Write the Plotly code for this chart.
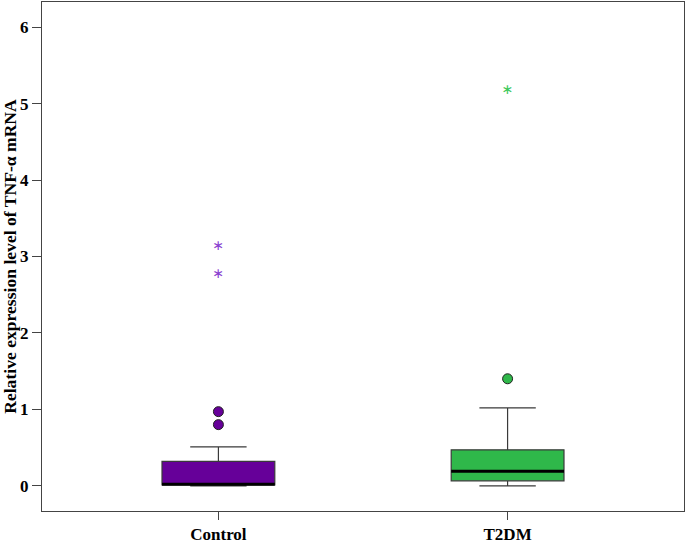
import plotly.graph_objects as go

groups = ["Control", "T2DM"]
box_colors = ["#660099", "#2fb84a"]
star_colors = ["#8a3fd0", "#3cc85a"]

# box statistics
lower_fence = [0.0, 0.0]
q1 = [0.01, 0.065]
median = [0.02, 0.19]
q3 = [0.32, 0.47]
upper_fence = [0.51, 1.02]

# outliers (circles) and extreme values (stars)
outliers = [[0.80, 0.97], [1.40]]
extremes = [[2.77, 3.13], [5.17]]

box_width = 0.39
xpos = list(range(len(groups)))

fig = go.Figure()

for i, g in enumerate(groups):
    fig.add_trace(go.Box(
        x=[xpos[i]],
        lowerfence=[lower_fence[i]], q1=[q1[i]], median=[median[i]],
        q3=[q3[i]], upperfence=[upper_fence[i]],
        width=box_width, whiskerwidth=0.5,
        fillcolor=box_colors[i],
        line=dict(color="#3a3a3a", width=1.2),
        boxpoints=False, name=g, showlegend=False, hoverinfo="skip",
    ))
    # thick median line
    fig.add_trace(go.Scatter(
        x=[xpos[i] - box_width / 2, xpos[i] + box_width / 2],
        y=[median[i], median[i]], mode="lines",
        line=dict(color="black", width=3), showlegend=False, hoverinfo="skip",
    ))
    fig.add_trace(go.Scatter(
        x=[xpos[i]] * len(outliers[i]), y=outliers[i], mode="markers",
        marker=dict(symbol="circle", size=10, color=box_colors[i],
                    line=dict(color="#222222", width=1)),
        showlegend=False, hoverinfo="skip",
    ))
    fig.add_trace(go.Scatter(
        x=[xpos[i]] * len(extremes[i]), y=extremes[i], mode="text",
        text=["\u2217"] * len(extremes[i]), textposition="middle center",
        textfont=dict(family="DejaVu Sans", size=14, color=star_colors[i]),
        showlegend=False, hoverinfo="skip",
    ))

axis_font = dict(family="Liberation Serif", size=17, color="black")

fig.update_layout(
    width=685, height=544,
    margin=dict(l=42, r=1, t=2, b=33),
    paper_bgcolor="white", plot_bgcolor="white",
    font=axis_font,
    xaxis=dict(
        range=[-0.61, 1.61], tickvals=xpos, ticktext=["<b>%s</b>" % g for g in groups],
        showgrid=False, zeroline=False, showline=True, mirror=True,
        linecolor="#444444", linewidth=1, ticks="outside", ticklen=8,
        tickcolor="#444444", tickfont=axis_font, automargin=False,
    ),
    yaxis=dict(
        range=[-0.33, 6.33], tickvals=[0, 1, 2, 3, 4, 5, 6],
        ticktext=["<b>%d</b>" % v for v in range(7)],
        showgrid=False, zeroline=False, showline=True, mirror=True,
        linecolor="#444444", linewidth=1, ticks="outside", ticklen=9,
        tickcolor="#444444", tickfont=axis_font, automargin=False,
        title=dict(text="<b>Relative expression level of TNF-α mRNA</b>",
                   font=dict(family="Liberation Serif", size=17.6, color="black"),
                   standoff=0),
    ),
)

fig.write_html("out.html", config={"displayModeBar": False},
               post_script="document.body.style.margin='0';")
